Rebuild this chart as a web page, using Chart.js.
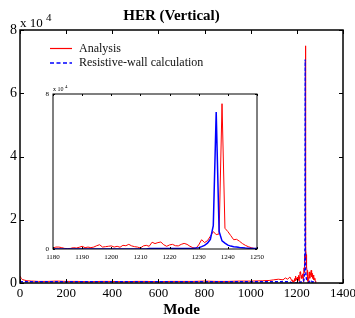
<!DOCTYPE html>
<html>
<head>
<meta charset="utf-8">
<script src="https://cdn.jsdelivr.net/npm/chart.js@4.4.0/dist/chart.umd.min.js"></script>
<style>
  html, body { margin: 0; padding: 0; background: #fff; }
  #wrap { position: relative; width: 355px; height: 318px; }
  #main { position: absolute; left: 0; top: 0; }
  #inset { position: absolute; left: 38px; top: 82px; }
</style>
</head>
<body>
<div id="wrap">
  <canvas id="main" width="355" height="318"></canvas>
  <canvas id="inset" width="226" height="184"></canvas>
</div>
<script>
// values are in units of 10^4
const lowModes = [0, 5, 10, 20, 30, 50, 80, 120, 160, 200, 250, 300, 350, 400, 450, 500, 550, 600, 650, 700, 750, 800, 850, 900, 950, 1000, 1050, 1080, 1100, 1120, 1140, 1150, 1160, 1170];
const lowRed = [0.22, 0.15, 0.11, 0.09, 0.07, 0.06, 0.05, 0.05, 0.06, 0.05, 0.05, 0.04, 0.05, 0.05, 0.04, 0.05, 0.05, 0.04, 0.05, 0.05, 0.05, 0.06, 0.05, 0.05, 0.06, 0.06, 0.07, 0.08, 0.1, 0.12, 0.1, 0.16, 0.12, 0.19];
const lowBlue = [0.05, 0.04, 0.04, 0.04, 0.04, 0.04, 0.04, 0.04, 0.04, 0.04, 0.04, 0.04, 0.04, 0.04, 0.04, 0.04, 0.04, 0.04, 0.04, 0.04, 0.04, 0.04, 0.04, 0.04, 0.04, 0.04, 0.04, 0.04, 0.04, 0.04, 0.04, 0.04, 0.04, 0.04];

const insetModes = [1180, 1181, 1182, 1183, 1184, 1185, 1186, 1187, 1188, 1189,
  1190, 1191, 1192, 1193, 1194, 1195, 1196, 1197, 1198, 1199,
  1200, 1201, 1202, 1203, 1204, 1205, 1206, 1207, 1208, 1209,
  1210, 1211, 1212, 1213, 1214, 1215, 1216, 1217, 1218, 1219,
  1220, 1221, 1222, 1223, 1224, 1225, 1226, 1227, 1228, 1229,
  1230, 1231, 1232, 1233, 1234, 1235, 1236, 1237, 1238, 1239,
  1240, 1241, 1242, 1243, 1244, 1245, 1246, 1247, 1248, 1249, 1250];
const insetRed = [0.05, 0.1, 0.1, 0.07, 0.03, 0.02, 0.03, 0.07, 0.05, 0.09,
  0.14, 0.07, 0.1, 0.07, 0.1, 0.17, 0.22, 0.1, 0.12, 0.14,
  0.16, 0.1, 0.14, 0.09, 0.19, 0.17, 0.24, 0.16, 0.12, 0.1,
  0.05, 0.16, 0.19, 0.14, 0.35, 0.28, 0.33, 0.36, 0.22, 0.14,
  0.21, 0.24, 0.17, 0.16, 0.24, 0.29, 0.24, 0.14, 0.07, 0.03,
  0.21, 0.48, 0.33, 0.43, 0.66, 0.9, 0.74, 0.78, 7.5, 1.07,
  0.9, 0.69, 0.48, 0.5, 0.4, 0.28, 0.19, 0.12, 0.07, 0.03, 0.03];
const insetBlue = [0, 0, 0, 0, 0, 0, 0, 0, 0, 0,
  0, 0, 0, 0, 0, 0, 0, 0, 0, 0,
  0, 0, 0, 0, 0, 0, 0, 0, 0, 0,
  0, 0, 0, 0.03, 0.03, 0.03, 0.03, 0.03, 0.03, 0.03,
  0.03, 0.03, 0.03, 0.03, 0.03, 0.03, 0.03, 0.03, 0.03, 0.05,
  0.07, 0.12, 0.19, 0.3, 0.5, 1.2, 7.07, 0.9, 0.42, 0.3,
  0.2, 0.15, 0.12, 0.1, 0.08, 0.07, 0.05, 0.04, 0.03, 0.02, 0.02];

const tailModes = [1252, 1254, 1256, 1258, 1260, 1262, 1264, 1266, 1268, 1270, 1272, 1274, 1276, 1278, 1280, 1282];
const tailRed = [0.2, 0.35, 0.15, 0.3, 0.25, 0.4, 0.2, 0.3, 0.15, 0.25, 0.1, 0.2, 0.1, 0.15, 0.05, 0.02];
const tailBlue = [0.03, 0.03, 0.05, 0.03, 0.04, 0.03, 0.05, 0.03, 0.04, 0.03, 0.04, 0.03, 0.04, 0.03, 0.03, 0.03];

const xTicksMain = [0, 200, 400, 600, 800, 1000, 1200, 1400];
const yTicksMain = [0, 2, 4, 6, 8];
const xTicksInset = [1180, 1190, 1200, 1210, 1220, 1230, 1240, 1250];
const yTicksInset = [0, 8];

const seriesNames = ['Analysis', 'Resistive-wall calculation'];

const serif = '"Liberation Serif", "Times New Roman", serif';

function toPoints(xs, ys) {
  return xs.map((x, i) => ({ x, y: ys[i] }));
}

const mainRed = toPoints(lowModes, lowRed).concat(toPoints(insetModes, insetRed), toPoints(tailModes, tailRed));
const mainBlue = toPoints(lowModes, lowBlue).concat(toPoints(insetModes, insetBlue), toPoints(tailModes, tailBlue));

const plain = (v) => String(v);

// x axis: fixed height, edge labels may hang over the padding
function fixX(h) {
  return (s) => {
    s.height = h;
    s.paddingLeft = 0;
    s.paddingRight = 0;
  };
}

// frame, inward ticks, exponent label and legend
function framePlugin(opts) {
  return {
    id: 'frame',
    afterDraw(chart) {
      const { ctx, chartArea: a, scales: { x, y } } = chart;
      ctx.save();
      ctx.strokeStyle = '#000';
      ctx.lineWidth = opts.lw;
      ctx.strokeRect(a.left, a.top, a.right - a.left, a.bottom - a.top);

      ctx.lineWidth = 1;
      opts.xt.forEach(v => {
        const px = Math.round(x.getPixelForValue(v)) + 0.5;
        ctx.beginPath();
        ctx.moveTo(px, a.bottom);
        ctx.lineTo(px, a.bottom - opts.tl);
        ctx.moveTo(px, a.top);
        ctx.lineTo(px, a.top + opts.tl);
        ctx.stroke();
      });
      opts.yt.forEach(v => {
        const py = Math.round(y.getPixelForValue(v)) + 0.5;
        ctx.beginPath();
        ctx.moveTo(a.left, py);
        ctx.lineTo(a.left + opts.tl, py);
        ctx.moveTo(a.right, py);
        ctx.lineTo(a.right - opts.tl, py);
        ctx.stroke();
      });

      // x 10^4
      ctx.fillStyle = '#000';
      ctx.textBaseline = 'alphabetic';
      ctx.textAlign = 'left';
      ctx.font = opts.expSize + 'px ' + serif;
      const ex = a.left + opts.expDx;
      const ey = a.top - opts.expDy;
      ctx.fillText('x 10', ex, ey);
      const w = ctx.measureText('x 10 ').width;
      ctx.font = Math.round(opts.expSize * 0.85) + 'px ' + serif;
      ctx.fillText('4', ex + w, ey - opts.expSize * 0.45);

      if (opts.legend) {
        ctx.font = '12px ' + serif;
        ctx.textBaseline = 'middle';
        ctx.fillStyle = '#111';
        // Analysis
        ctx.strokeStyle = '#ff0000';
        ctx.lineWidth = 1.2;
        ctx.beginPath();
        ctx.moveTo(50, 48.5);
        ctx.lineTo(72, 48.5);
        ctx.stroke();
        ctx.fillText(seriesNames[0], 79, 48.5);
        // Resistive-wall
        ctx.strokeStyle = '#0000ff';
        ctx.lineWidth = 1.6;
        ctx.setLineDash([4, 2.5]);
        ctx.beginPath();
        ctx.moveTo(50, 63);
        ctx.lineTo(72, 63);
        ctx.stroke();
        ctx.setLineDash([]);
        ctx.fillText(seriesNames[1], 79, 63);
      }
      ctx.restore();
    }
  };
}

new Chart(document.getElementById('main'), {
  type: 'line',
  data: {
    datasets: [{
      label: seriesNames[0],
      data: mainRed,
      borderColor: '#ff0000',
      borderWidth: 1,
      pointRadius: 0,
      order: 1
    }, {
      label: seriesNames[1],
      data: mainBlue,
      borderColor: '#0000ff',
      borderWidth: 1.4,
      borderDash: [3, 2],
      pointRadius: 0,
      order: 0
    }]
  },
  options: {
    responsive: false,
    animation: false,
    layout: { padding: { left: 0, right: 12, top: 0, bottom: 0 } },
    plugins: {
      legend: { display: false },
      tooltip: { enabled: false },
      title: {
        display: true,
        text: 'HER (Vertical)',
        color: '#000',
        font: { family: serif, size: 15, weight: 'bold', lineHeight: 1.2 },
        padding: { top: 7, bottom: 5 }
      }
    },
    scales: {
      x: {
        type: 'linear',
        min: 0,
        max: 1400,
        afterBuildTicks: (s) => { s.ticks = xTicksMain.map(v => ({ value: v })); },
        afterFit: fixX(35),
        ticks: { color: '#000', padding: 3, callback: plain, font: { family: serif, size: 13 } },
        grid: { drawOnChartArea: false, drawTicks: false },
        border: { display: false },
        title: {
          display: true,
          text: 'Mode',
          color: '#000',
          font: { family: serif, size: 15, weight: 'bold', lineHeight: 1 },
          padding: { top: 0, bottom: 0 }
        }
      },
      y: {
        min: 0,
        max: 8,
        afterBuildTicks: (s) => { s.ticks = yTicksMain.map(v => ({ value: v })); },
        afterFit: (s) => { s.width = 20; },
        ticks: { color: '#000', padding: 3, callback: plain, font: { family: serif, size: 14 } },
        grid: { drawOnChartArea: false, drawTicks: false },
        border: { display: false }
      }
    }
  },
  plugins: [framePlugin({ lw: 1.5, tl: 4, xt: xTicksMain, yt: yTicksMain, expSize: 13, expDx: 0, expDy: 3, legend: true })]
});

new Chart(document.getElementById('inset'), {
  type: 'line',
  data: {
    datasets: [{
      label: seriesNames[0],
      data: toPoints(insetModes, insetRed),
      borderColor: '#ff0000',
      borderWidth: 1,
      pointRadius: 0,
      order: 1
    }, {
      label: seriesNames[1],
      data: toPoints(insetModes, insetBlue),
      borderColor: '#0000ff',
      borderWidth: 1.5,
      pointRadius: 0,
      order: 0
    }]
  },
  options: {
    responsive: false,
    animation: false,
    layout: { padding: { left: 0, right: 7, top: 12, bottom: 0 } },
    plugins: {
      legend: { display: false },
      tooltip: { enabled: false }
    },
    scales: {
      x: {
        type: 'linear',
        min: 1180,
        max: 1250,
        afterBuildTicks: (s) => { s.ticks = xTicksInset.map(v => ({ value: v })); },
        afterFit: fixX(17),
        ticks: { color: '#000', padding: 4, callback: plain, font: { family: serif, size: 7 } },
        grid: { drawOnChartArea: false, drawTicks: false },
        border: { display: false }
      },
      y: {
        min: 0,
        max: 8,
        afterBuildTicks: (s) => { s.ticks = yTicksInset.map(v => ({ value: v })); },
        afterFit: (s) => { s.width = 15; },
        ticks: { color: '#000', padding: 4, callback: plain, font: { family: serif, size: 7 } },
        grid: { drawOnChartArea: false, drawTicks: false },
        border: { display: false }
      }
    }
  },
  plugins: [framePlugin({ lw: 1, tl: 2, xt: xTicksInset, yt: yTicksInset, expSize: 6, expDx: 0, expDy: 3, legend: false })]
});
</script>
</body>
</html>
